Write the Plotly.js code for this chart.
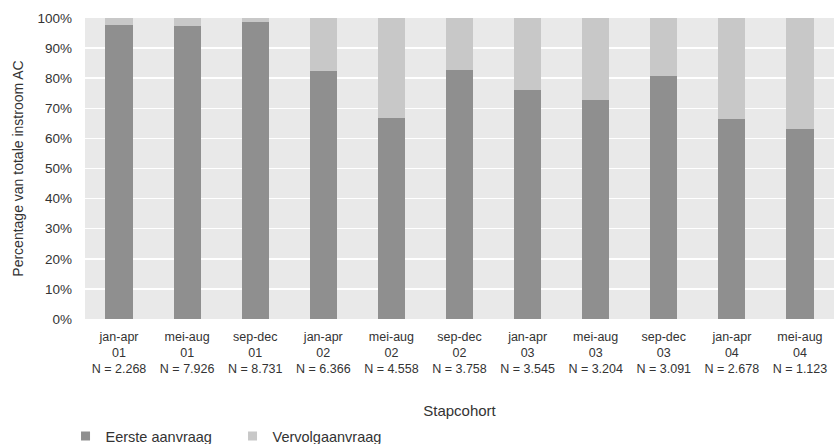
<!DOCTYPE html>
<html>
<head>
<meta charset="utf-8">
<script src="https://cdn.plot.ly/plotly-3.0.1.min.js"></script>
<style>
  html, body { margin: 0; padding: 0; background: #ffffff; }
  #chart { width: 835px; height: 444px; }
</style>
</head>
<body>
<div id="chart"></div>
<script>
// Stap cohorts (four-month periods), year and cohort size
const periods = ["jan-apr", "mei-aug", "sep-dec", "jan-apr", "mei-aug", "sep-dec",
                 "jan-apr", "mei-aug", "sep-dec", "jan-apr", "mei-aug"];
const years = ["01", "01", "01", "02", "02", "02", "03", "03", "03", "04", "04"];
const cohortSizes = ["2.268", "7.926", "8.731", "6.366", "4.558", "3.758",
                     "3.545", "3.204", "3.091", "2.678", "1.123"];

// Share of total AC inflow (%)
const eersteAanvraag = [97.7, 97.3, 98.7, 82.4, 66.8, 82.7, 76.1, 72.8, 80.7, 66.4, 63.1];
const vervolgAanvraag = [2.3, 2.7, 1.3, 17.6, 33.2, 17.3, 23.9, 27.2, 19.3, 33.6, 36.9];

const seriesNames = ["Eerste aanvraag", "Vervolgaanvraag"];
const seriesColors = ["#8f8f8f", "#c8c8c8"];

const cohortIndex = periods.map((_, i) => i);
const tickLabels = periods.map((p, i) => p + "<br>" + years[i] + "<br>N = " + cohortSizes[i]);

const fontFamily = "'Liberation Sans', Arial, sans-serif";
const textColor = "#333333";

const barTrace = (name, values, color) => ({
  type: "bar",
  name: name,
  x: cohortIndex,
  y: values,
  marker: { color: color, line: { width: 0 } },
  showlegend: false,
  hoverinfo: "skip"
});

// Small square swatches for the legend
const legendTrace = (name, color) => ({
  type: "scatter",
  mode: "markers",
  name: name,
  x: [null],
  y: [null],
  marker: { symbol: "square", size: 9, color: color, line: { width: 0 } },
  hoverinfo: "skip"
});

const traces = [
  barTrace(seriesNames[0], eersteAanvraag, seriesColors[0]),
  barTrace(seriesNames[1], vervolgAanvraag, seriesColors[1]),
  legendTrace(seriesNames[0], seriesColors[0]),
  legendTrace(seriesNames[1], seriesColors[1])
];

const layout = {
  width: 835,
  height: 444,
  margin: { l: 85, r: 1, t: 18, b: 125, autoexpand: false },
  paper_bgcolor: "#ffffff",
  plot_bgcolor: "#e9e9e9",
  barmode: "stack",
  bargap: 0.6,
  font: { family: fontFamily, size: 13, color: textColor },
  showlegend: true,
  legend: {
    orientation: "h",
    x: -0.026,
    xanchor: "left",
    y: -0.389,
    yanchor: "middle",
    font: { family: fontFamily, size: 14.5, color: textColor },
    traceorder: "normal",
    itemwidth: 30,
    entrywidth: 122
  },
  xaxis: {
    tickmode: "array",
    tickvals: cohortIndex,
    ticktext: tickLabels,
    range: [-0.5, periods.length - 0.5],
    showgrid: false,
    zeroline: false,
    showline: false,
    ticks: "",
    automargin: false,
    ticklabelstandoff: 8,
    tickfont: { family: fontFamily, size: 12.5, color: textColor },
    title: {
      text: "Stapcohort",
      font: { family: fontFamily, size: 15, color: textColor },
      standoff: 30
    }
  },
  yaxis: {
    range: [0, 100],
    dtick: 10,
    tick0: 0,
    ticksuffix: "%",
    showgrid: true,
    gridcolor: "#ffffff",
    gridwidth: 1.5,
    zeroline: false,
    showline: false,
    ticks: "",
    automargin: false,
    ticklabelstandoff: 12,
    tickfont: { family: fontFamily, size: 13.5, color: textColor },
    title: {
      text: "Percentage van totale instroom AC",
      font: { family: fontFamily, size: 14, color: textColor },
      standoff: 10
    }
  }
};

Plotly.newPlot("chart", traces, layout, { displayModeBar: false, staticPlot: true });
</script>
</body>
</html>
